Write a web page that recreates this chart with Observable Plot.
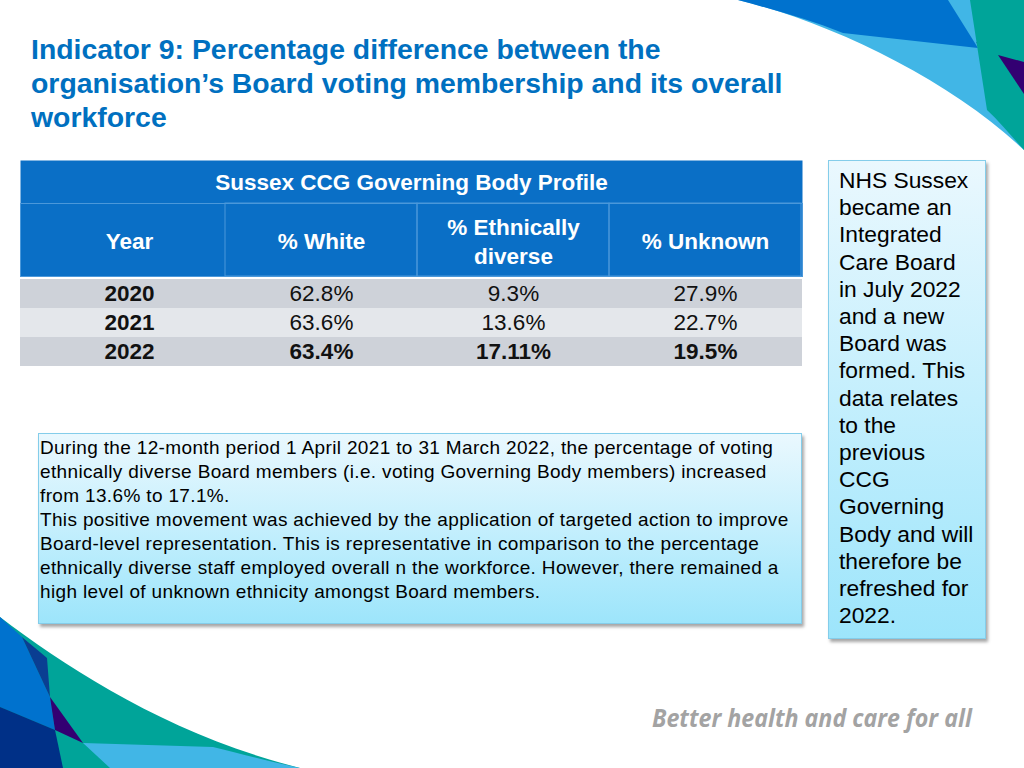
<!DOCTYPE html>
<html>
<head>
<meta charset="utf-8">
<script src="https://cdn.jsdelivr.net/npm/d3@7"></script>
<script src="https://cdn.jsdelivr.net/npm/@observablehq/plot@0.6"></script>
<style>
  html, body { margin: 0; padding: 0; background: #fff; }
  #page { position: relative; width: 1024px; height: 768px; overflow: hidden; font-family: "Liberation Sans", Arial, Helvetica, sans-serif; }
  #decor { position: absolute; left: 0; top: 0; }
  #title { position: absolute; left: 31px; top: 32px; font-size: 28.4px; line-height: 34px; font-weight: bold; color: #0070C0; white-space: nowrap; }
  #table { position: absolute; left: 20px; top: 160px; }
  .box { position: absolute; box-sizing: border-box; border: 1px solid #84cdea;
         background: linear-gradient(to bottom, #eaf8fe 0%, #c4effd 50%, #9de5fb 100%);
         box-shadow: 2px 3px 3px rgba(0,0,0,0.35); color: #000; }
  #note { left: 828px; top: 160px; width: 158px; height: 479px; padding: 6px 0 0 10px; font-size: 22.8px; line-height: 27.2px; white-space: pre-line; }
  #comment { left: 38px; top: 433px; width: 764px; height: 191px; padding: 2px 0 0 1px; font-size: 19px; letter-spacing: 0.35px; line-height: 24px; white-space: pre-line; }
  #footer { position: absolute; left: 652px; top: 704px; font-family: "Open Sans", sans-serif; font-style: italic; font-weight: bold; font-size: 25px; line-height: 26px; color: #a3a3a3; white-space: nowrap; transform: scaleX(0.93); transform-origin: 0 0; }
</style>
</head>
<body>
<div id="page">
  <svg id="decor" width="1024" height="768">
    <!-- top right swoosh -->
    <path d="M738,0 C830,22 950,80 1024,150 L1024,0 Z" fill="#41B6E6"/>
    <path d="M738,0 C775,10 810,20 843,33 L978,48 L948,0 Z" fill="#0072CE"/>
    <path d="M976,42 L1000,56 L986,58 Z" fill="#003087"/>
    <path d="M970,0 L1024,0 L1024,150 C1012,137 1000,122 987,110 Z" fill="#00A499"/>
    <path d="M998,55 L1024,62 L1024,94 Z" fill="#330072"/>
    <!-- bottom left swoosh -->
    <path d="M0,617 C70,670 170,735 300,768 L0,768 Z" fill="#00A499"/>
    <path d="M0,617 L22,637 L50,697 L55,730 L0,707 Z" fill="#0072CE"/>
    <path d="M22,637 C30,644 39,651 47,658 L50,697 Z" fill="#0a3e92"/>
    <path d="M50,697 L55,730 L83,743 Z" fill="#330072"/>
    <path d="M0,707 L55,730 L63,768 L0,768 Z" fill="#003087"/>
    <path d="M83,743 L213,747 C245,755 272,762 300,768 L110,768 Z" fill="#41B6E6"/>
  </svg>

  <div id="title">Indicator 9: Percentage difference between the<br>organisation’s Board voting membership and its overall<br>workforce</div>

  <div id="table"></div>

  <div id="note" class="box"></div>
  <div id="comment" class="box"></div>
  <div id="footer">Better health and care for all</div>
</div>

<script>
// ---- data ----
const tableTitle = "Sussex CCG Governing Body Profile";
const columns = ["Year", "% White", "% Ethnically diverse", "% Unknown"];
const headerLabels = ["Year", "% White", "% Ethnically\ndiverse", "% Unknown"];
const years = ["2020", "2021", "2022"];
const pctWhite = [62.8, 63.6, 63.4];
const pctEthnicallyDiverse = [9.3, 13.6, 17.11];
const pctUnknown = [27.9, 22.7, 19.5];
const boldYears = ["2022"];

const noteLines = ["NHS Sussex", "became an", "Integrated", "Care Board", "in July 2022", "and a new", "Board was", "formed. This", "data relates", "to the", "previous", "CCG", "Governing", "Body and will", "therefore be", "refreshed for", "2022."];
const commentLines = [
  "During the 12-month period 1 April 2021 to 31 March 2022, the percentage of voting",
  "ethnically diverse Board members (i.e. voting Governing Body members) increased",
  "from 13.6% to 17.1%.",
  "This positive movement was achieved by the application of targeted action to improve",
  "Board-level representation. This is representative in comparison to the percentage",
  "ethnically diverse staff employed overall n the workforce.  However, there remained a",
  "high level of unknown ethnicity amongst Board members."
];

document.getElementById("note").textContent = noteLines.join("\n");
document.getElementById("comment").textContent = commentLines.join("\n");

// ---- build table rows from arrays ----
const fmt = v => `${v}%`;
const cells = [];
years.forEach((yr, i) => {
  const vals = [yr, fmt(pctWhite[i]), fmt(pctEthnicallyDiverse[i]), fmt(pctUnknown[i])];
  vals.forEach((label, j) => {
    cells.push({year: yr, col: columns[j], label, bold: j === 0 || boldYears.includes(yr)});
  });
});

const W = 782, H = 206, headerH = 116, titleH = 43;
const blue = "#0A6FC6";
const sep = "#4b98da";
const fontSize = 22.5;

const chart = Plot.plot({
  width: W,
  height: H,
  marginTop: 0, marginRight: 0, marginBottom: 0, marginLeft: 0,
  style: {fontFamily: "'Liberation Sans', Arial, Helvetica, sans-serif", background: "transparent", overflow: "visible"},
  x: {type: "band", domain: columns, range: [11, W], paddingInner: 0, paddingOuter: 0, axis: null},
  y: {type: "band", domain: years, range: [headerH + 2, H], paddingInner: 0, paddingOuter: 0, axis: null},
  color: {type: "identity"},
  marks: [
    // header background
    Plot.frame({fill: blue, stroke: "none", insetBottom: H - headerH}),
    Plot.frame({fill: "none", stroke: sep, insetTop: titleH, insetBottom: H - headerH}),
    Plot.cell(columns.slice(1), {x: d => d, fill: "none", stroke: sep, insetTop: titleH, insetBottom: H - headerH}),
    // banded body rows
    Plot.cell(years, {y: d => d, fill: (d, i) => (i % 2 === 1 ? "#e4e7eb" : "#ced2d9")}),
    // title text
    Plot.text([tableTitle], {frameAnchor: "top", dy: titleH / 2 + 1, lineAnchor: "middle", fill: "white", fontSize, fontWeight: "bold"}),
    // column headers
    Plot.text(columns, {x: d => d, text: (d, i) => headerLabels[i], frameAnchor: "top", dy: (titleH + headerH) / 2, lineAnchor: "middle", lineHeight: 1.3, fill: "white", fontSize, fontWeight: "bold"}),
    // body values
    Plot.text(cells.filter(d => !d.bold), {x: "col", y: "year", text: "label", fill: "#111", fontSize}),
    Plot.text(cells.filter(d => d.bold), {x: "col", y: "year", text: "label", fill: "#111", fontSize, fontWeight: "bold"})
  ]
});
document.getElementById("table").appendChild(chart);
</script>
</body>
</html>
